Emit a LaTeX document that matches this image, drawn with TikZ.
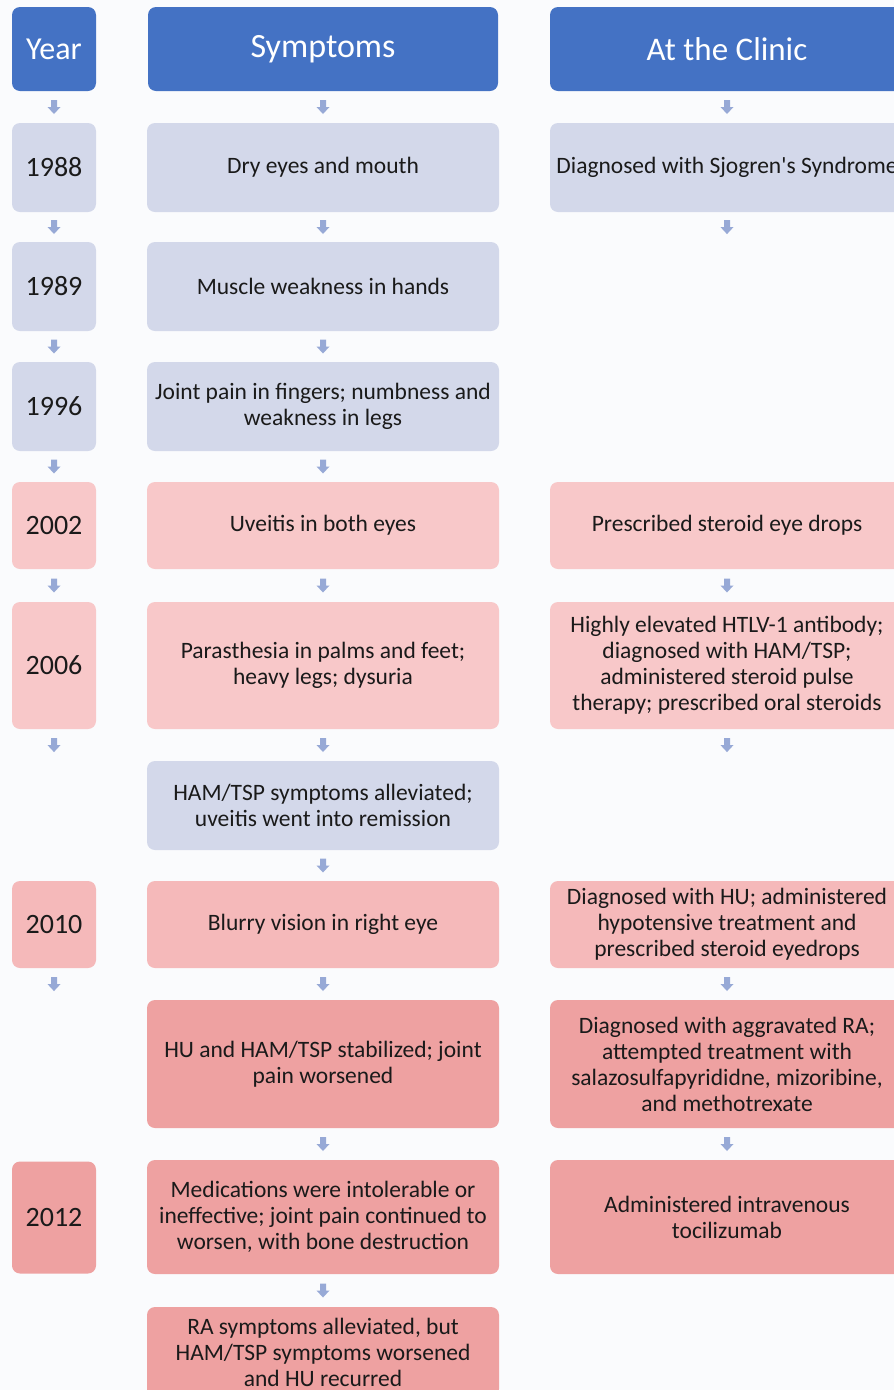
\documentclass[tikz,border=0pt]{standalone}
\usepackage{fontspec}
\setmainfont{Carlito}
\definecolor{hdrblue}{HTML}{4472C4}
\definecolor{lblue}{HTML}{D3D8EA}
\definecolor{pinkA}{HTML}{F8C8C9}
\definecolor{pinkB}{HTML}{F5B9BA}
\definecolor{pinkC}{HTML}{EEA1A1}
\definecolor{arrowc}{HTML}{97A9D6}
\definecolor{bgc}{HTML}{FAFBFD}
\definecolor{txt}{HTML}{1A1A1A}
\tikzset{
  box/.style={rounded corners=8pt, draw=none, inner sep=0pt, align=center,
    text=txt, font=\fontsize{23.5}{26}\selectfont},
  yearcol/.style={box, minimum width=84pt, font=\fontsize{28}{30}\selectfont},
  symcol/.style={box, minimum width=352pt},
  cliniccol/.style={box, minimum width=354pt},
  hdr/.style={fill=hdrblue, text=white, minimum height=84pt, font=\fontsize{34}{38}\selectfont},
  blk/.style={rectangle, draw=none, fill=none, inner sep=0pt,
    minimum width=13pt, minimum height=14pt,
    path picture={\fill[arrowc]
      ([shift={(3.5pt,0pt)}]path picture bounding box.north west) --
      ([shift={(9.5pt,0pt)}]path picture bounding box.north west) --
      ([shift={(9.5pt,-7pt)}]path picture bounding box.north west) --
      ([shift={(13pt,-7pt)}]path picture bounding box.north west) --
      ([shift={(6.5pt,-14pt)}]path picture bounding box.north west) --
      ([shift={(0pt,-7pt)}]path picture bounding box.north west) --
      ([shift={(3.5pt,-7pt)}]path picture bounding box.north west) -- cycle;}},
}
\begin{document}
\begin{tikzpicture}[x=1pt, y=-1pt]
\useasboundingbox (0,0) rectangle (894,1390);
\clip (0,0) rectangle (894,1390);
\fill[bgc] (0,0) rectangle (894,1390);
% headers
\node[yearcol, hdr, font=\fontsize{32}{36}\selectfont] (yh) at (54,49) {Year};
\node[symcol, hdr, minimum width=350pt] (sh) at (323,49) {Symptoms};
\node[cliniccol, hdr, font=\fontsize{33}{37}\selectfont] (ch) at (727,49) {At the Clinic};
% year column
\node[yearcol, fill=lblue, minimum height=89pt] (y1988) at (54,167.5) {1988};
\node[yearcol, fill=lblue, minimum height=89pt] (y1989) at (54,286.5) {1989};
\node[yearcol, fill=lblue, minimum height=89pt] (y1996) at (54,406.5) {1996};
\node[yearcol, fill=pinkA, minimum height=87pt] (y2002) at (54,525.5) {2002};
\node[yearcol, fill=pinkA, minimum height=127pt] (y2006) at (54,665.5) {2006};
\node[yearcol, fill=pinkB, minimum height=87pt] (y2010) at (54,924.5) {2010};
\node[yearcol, fill=pinkC, minimum height=112pt] (y2012) at (54,1217.5) {2012};
% symptoms column
\node[symcol, fill=lblue, minimum height=89pt] (s1) at (323,167.5) {Dry eyes and mouth};
\node[symcol, fill=lblue, minimum height=89pt] (s2) at (323,286.5) {Muscle weakness in hands};
\node[symcol, fill=lblue, minimum height=89pt] (s3) at (323,406.5) {Joint pain in fingers; numbness and\\weakness in legs};
\node[symcol, fill=pinkA, minimum height=87pt] (s4) at (323,525.5) {Uveitis in both eyes};
\node[symcol, fill=pinkA, minimum height=127pt] (s5) at (323,665.5) {Parasthesia in palms and feet;\\heavy legs; dysuria};
\node[symcol, fill=lblue, minimum height=89pt] (s6) at (323,805.5) {HAM/TSP symptoms alleviated;\\uveitis went into remission};
\node[symcol, fill=pinkB, minimum height=87pt] (s7) at (323,924.5) {Blurry vision in right eye};
\node[symcol, fill=pinkC, minimum height=128pt] (s8) at (323,1064) {HU and HAM/TSP stabilized; joint\\pain worsened};
\node[symcol, fill=pinkC, minimum height=114pt] (s9) at (323,1217) {Medications were intolerable or\\ineffective; joint pain continued to\\worsen, with bone destruction};
\node[symcol, fill=pinkC, minimum height=90pt] (s10) at (323,1352) {RA symptoms alleviated, but\\HAM/TSP symptoms worsened\\and HU recurred};
% clinic column
\node[cliniccol, fill=lblue, minimum height=89pt] (c1) at (727,167.5) {Diagnosed with Sjogren\textquotesingle s Syndrome};
\node[cliniccol, fill=pinkA, minimum height=87pt] (c4) at (727,525.5) {Prescribed steroid eye drops};
\node[cliniccol, fill=pinkA, minimum height=127pt] (c5) at (727,665.5) {Highly elevated HTLV-1 antibody;\\diagnosed with HAM/TSP;\\administered steroid pulse\\therapy; prescribed oral steroids};
\node[cliniccol, fill=pinkB, minimum height=87pt] (c7) at (727,924.5) {Diagnosed with HU; administered\\hypotensive treatment and\\prescribed steroid eyedrops};
\node[cliniccol, fill=pinkC, minimum height=128pt] (c8) at (727,1064) {Diagnosed with aggravated RA;\\attempted treatment with\\salazosulfapyrididne, mizoribine,\\and methotrexate};
\node[cliniccol, fill=pinkC, minimum height=114pt] (c9) at (727,1217) {Administered intravenous\\tocilizumab};
% free ends
\coordinate (ye1) at (54,761);
\coordinate (ye2) at (54,1000);
\coordinate (ce1) at (727,242);
\coordinate (ce2) at (727,761);
% year arrows
\path (yh.south) -- (y1988.north) node[midway, blk] {};
\path (y1988.south) -- (y1989.north) node[midway, blk] {};
\path (y1989.south) -- (y1996.north) node[midway, blk] {};
\path (y1996.south) -- (y2002.north) node[midway, blk] {};
\path (y2002.south) -- (y2006.north) node[midway, blk] {};
\path (y2006.south) -- (ye1) node[midway, blk] {};
\path (y2010.south) -- (ye2) node[midway, blk] {};
% symptom arrows
\path (sh.south) -- (s1.north) node[midway, blk] {};
\path (s1.south) -- (s2.north) node[midway, blk] {};
\path (s2.south) -- (s3.north) node[midway, blk] {};
\path (s3.south) -- (s4.north) node[midway, blk] {};
\path (s4.south) -- (s5.north) node[midway, blk] {};
\path (s5.south) -- (s6.north) node[midway, blk] {};
\path (s6.south) -- (s7.north) node[midway, blk] {};
\path (s7.south) -- (s8.north) node[midway, blk] {};
\path (s8.south) -- (s9.north) node[midway, blk] {};
\path (s9.south) -- (s10.north) node[midway, blk] {};
% clinic arrows
\path (ch.south) -- (c1.north) node[midway, blk] {};
\path (c1.south) -- (ce1) node[midway, blk] {};
\path (c4.south) -- (c5.north) node[midway, blk] {};
\path (c5.south) -- (ce2) node[midway, blk] {};
\path (c7.south) -- (c8.north) node[midway, blk] {};
\path (c8.south) -- (c9.north) node[midway, blk] {};
\end{tikzpicture}
\end{document}
